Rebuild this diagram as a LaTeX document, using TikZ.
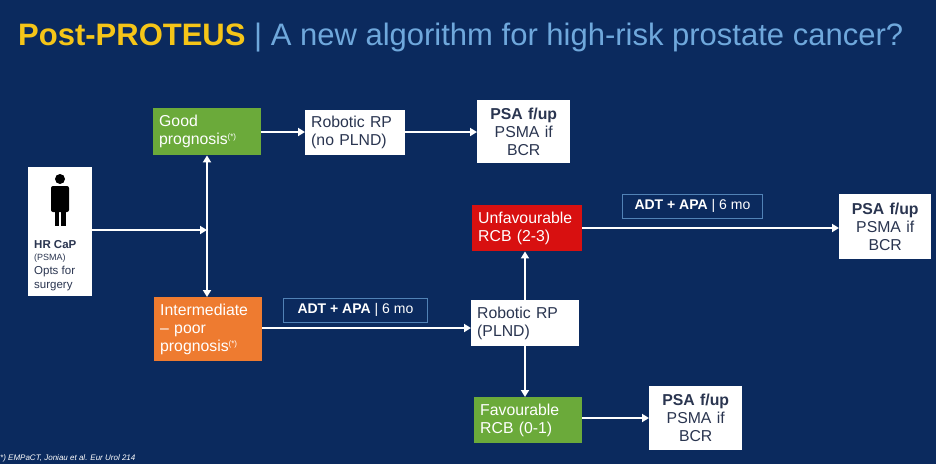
\documentclass[tikz,border=0pt]{standalone}
\usepackage{fontspec}
\setmainfont{Liberation Sans}
\usetikzlibrary{arrows.meta}
\definecolor{bg}{HTML}{0B2A5E}
\definecolor{ttl}{HTML}{F5C518}
\definecolor{ttb}{HTML}{6FA8DC}
\definecolor{gr}{HTML}{6BAA3A}
\definecolor{og}{HTML}{EE7B30}
\definecolor{rd}{HTML}{D81010}
\definecolor{tx}{HTML}{2A3550}
\newcommand{\sstar}{\textsuperscript{\fontsize{8}{8}\selectfont(*)}}
\begin{document}
\begin{tikzpicture}[x=1pt,y=-1pt,
  box/.style={draw=none,anchor=north west,align=left,inner xsep=6pt,inner ysep=3pt,font=\fontsize{15.8}{18}\selectfont},
  wbox/.style={box,fill=white,text=tx},
  cbox/.style={box,text=white},
  lbl/.style={draw=ttb!70!bg,line width=0.8pt,anchor=north west,text=white,inner xsep=6pt,inner ysep=0pt,font=\fontsize{14}{16}\selectfont,align=left},
  arr/.style={draw=white,line width=1.8pt,-{Triangle[length=7pt,width=8pt]}},
  darr/.style={draw=white,line width=1.8pt,{Triangle[length=7pt,width=8pt]}-{Triangle[length=7pt,width=8pt]}}]
\fill[bg] (0,0) rectangle (936,464);
\useasboundingbox (0,0) rectangle (936,464);
\node[anchor=west,inner sep=0pt,font=\fontsize{31}{34}\selectfont] (title) at (18,38) {\textcolor{ttl}{\bfseries Post-PROTEUS} \textcolor{ttb}{| A new algorithm for high-risk prostate cancer?}};
% HR box
\node[fill=white,anchor=north west,minimum width=64pt,minimum height=129pt,inner sep=0pt] (hr) at (28,167) {};
\node[anchor=north west,text=tx,align=left,inner sep=0pt,font=\fontsize{11.5}{14}\selectfont] (hrt) at (34,240) {\textbf{HR CaP}\\[-2pt]{\fontsize{9}{11}\selectfont (PSMA)}\\Opts for\\surgery};
% person
\fill[black] (60,179) circle (5);
\fill[black,rounded corners=2pt] (51,186) rectangle (69,212);
\fill[black] (54.5,208) rectangle (59.3,226);
\fill[black] (60.7,208) rectangle (65.5,226);
% nodes
\node[cbox,fill=gr,text width=96pt,minimum height=47pt] (good) at (153,108) {Good\\prognosis\sstar};
\node[wbox,text width=88pt,minimum height=45pt] (rp1) at (305,110) {Robotic RP\\(no PLND)};
\node[wbox,align=center,text width=81pt,minimum height=63pt] (psa1) at (477,100) {\textbf{PSA f/up}\\PSMA if\\BCR};
\node[cbox,fill=og,text width=96pt,minimum height=64pt] (int) at (154,297) {Intermediate\\– poor\\prognosis\sstar};
\node[lbl,minimum width=144pt,minimum height=24pt] (adt1) at (283,298) {\textbf{ADT + APA} | 6 mo};
\node[wbox,text width=96pt,minimum height=46pt] (rp2) at (471,300) {Robotic RP\\(PLND)};
\node[cbox,fill=rd,text width=98pt,minimum height=46pt] (unf) at (472,205) {Unfavourable\\RCB (2-3)};
\node[lbl,minimum width=140pt,minimum height=24pt] (adt2) at (622,194) {\textbf{ADT + APA} | 6 mo};
\node[wbox,align=center,text width=80pt,minimum height=65pt] (psa2) at (839,194) {\textbf{PSA f/up}\\PSMA if\\BCR};
\node[cbox,fill=gr,text width=96pt,minimum height=46pt] (fav) at (474,397) {Favourable\\RCB (0-1)};
\node[wbox,align=center,text width=81pt,minimum height=64pt] (psa3) at (649,386) {\textbf{PSA f/up}\\PSMA if\\BCR};
\node[anchor=west,text=white,inner sep=0pt,font=\fontsize{8}{9}\selectfont\itshape] (foot) at (0,458) {*) EMPaCT, Joniau et al. Eur Urol 214};
% connectors
\coordinate (j) at (207,230);
\draw[arr] (hr.east|-j) -- (j);
\draw[darr] (good.south-|j) -- (int.north-|j);
\draw[arr] (good.east|-0,132) -- (rp1.west|-0,132);
\draw[arr] (rp1.east|-0,132) -- (psa1.west|-0,132);
\draw[arr] (int.east|-0,328) -- (rp2.west|-0,328);
\draw[arr] (rp2.north-|525,0) -- (unf.south-|525,0);
\draw[arr] (rp2.south-|525,0) -- (fav.north-|525,0);
\draw[arr] (unf.east|-0,228) -- (psa2.west|-0,228);
\draw[arr] (fav.east|-0,418) -- (psa3.west|-0,418);
\end{tikzpicture}
\end{document}
